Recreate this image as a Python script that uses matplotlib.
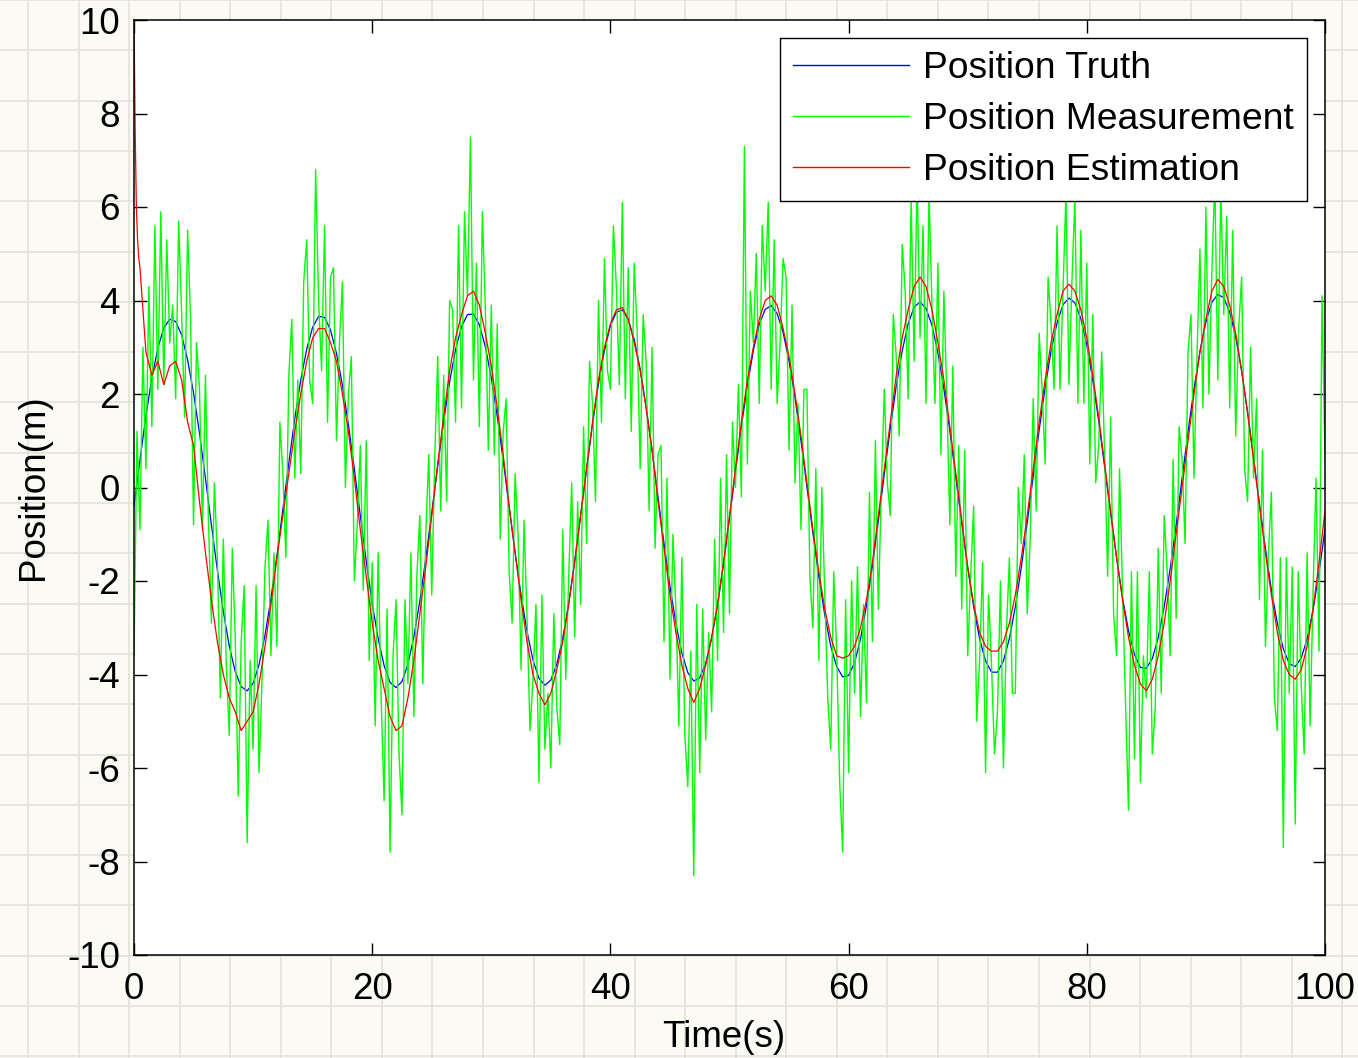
import matplotlib
matplotlib.use("Agg")
import matplotlib.pyplot as plt
import numpy as np

plt.rcParams["font.family"] = ["Liberation Sans", "DejaVu Sans"]
plt.rcParams["axes.unicode_minus"] = False

# sampling grids
t_truth = np.arange(0, 100.5, 0.5)
t_meas = np.arange(0, 100.25, 0.25)
t_est = np.concatenate([np.arange(0, 0.5, 0.1), np.arange(0.5, 100.5, 0.5)])

truth = [
    -0.40, 0.59, 1.53, 2.34, 2.98, 3.41, 3.60, 3.55, 3.26, 2.73,
    2.02, 1.16, 0.19, -0.80, -1.77, -2.65, -3.39, -3.94, -4.26, -4.35,
    -4.19, -3.79, -3.16, -2.37, -1.46, -0.47, 0.53, 1.47, 2.30, 2.96,
    3.43, 3.66, 3.64, 3.37, 2.87, 2.19, 1.35, 0.40, -0.60, -1.58,
    -2.48, -3.23, -3.81, -4.17, -4.28, -4.15, -3.78, -3.19, -2.43, -1.51,
    -0.54, 0.46, 1.41, 2.26, 2.95, 3.44, 3.70, 3.71, 3.48, 3.01,
    2.35, 1.52, 0.58, -0.42, -1.39, -2.30, -3.08, -3.69, -4.08, -4.23,
    -4.12, -3.78, -3.22, -2.48, -1.58, -0.60, 0.40, 1.36, 2.22, 2.93,
    3.46, 3.75, 3.80, 3.59, 3.17, 2.53, 1.72, 0.79, -0.21, -1.19,
    -2.11, -2.91, -3.54, -3.96, -4.14, -4.07, -3.76, -3.23, -2.51, -1.63,
    -0.66, 0.34, 1.31, 2.18, 2.93, 3.49, 3.81, 3.89, 3.72, 3.32,
    2.70, 1.92, 1.00, 0.01, -0.97, -1.91, -2.73, -3.39, -3.83, -4.05,
    -4.02, -3.75, -3.24, -2.53, -1.68, -0.71, 0.29, 1.26, 2.17, 2.92,
    3.50, 3.86, 3.97, 3.83, 3.47, 2.88, 2.11, 1.21, 0.22, -0.77,
    -1.71, -2.55, -3.24, -3.71, -3.95, -3.95, -3.71, -3.23, -2.55, -1.71,
    -0.75, 0.24, 1.23, 2.13, 2.92, 3.52, 3.91, 4.05, 3.95, 3.61,
    3.05, 2.30, 1.42, 0.44, -0.55, -1.50, -2.36, -3.06, -3.57, -3.85,
    -3.87, -3.66, -3.21, -2.55, -1.74, -0.80, 0.19, 1.19, 2.11, 2.91,
    3.54, 3.96, 4.13, 4.06, 3.75, 3.22, 2.49, 1.61, 0.64, -0.35,
    -1.31, -2.19, -2.91, -3.45, -3.77, -3.83, -3.65, -3.24, -2.61, -1.82,
    -0.89,
]

measurement = [
    -3.6, 1.2, -0.9, 3.0, 0.4, 4.3, 1.3, 5.6, 2.1, 5.9,
    2.2, 5.3, 3.1, 3.9, 1.9, 5.7, 3.7, 1.5, 5.5, 3.6,
    -0.8, 3.1, 2.1, -0.9, 2.4, -0.7, -2.9, 0.1, -1.5, -4.5,
    -1.1, -3.8, -5.3, -1.3, -3.2, -6.6, -3.3, -2.1, -7.6, -3.7,
    -5.6, -2.1, -6.1, -4.1, -1.7, -0.7, -3.6, -1.4, -3.4, 1.4,
    0.3, -1.5, 2.4, 3.6, 0.2, 2.3, 0.3, 4.4, 5.3, 2.3,
    1.8, 6.8, 4.0, 2.5, 5.6, 1.4, 4.5, 4.7, 1.0, 3.1,
    4.4, 0.0, 2.0, 2.8, -2.0, -0.8, 0.9, -2.2, 1.0, -3.7,
    -1.6, -5.1, -1.4, -4.5, -6.7, -2.6, -7.8, -3.6, -2.4, -5.7,
    -7.0, -2.4, -4.2, -1.4, -4.9, -1.9, -0.6, -4.2, -1.0, 0.7,
    -2.3, 0.6, 2.8, -0.5, 2.4, -0.3, 4.0, 3.8, 1.4, 5.6,
    1.7, 5.9, 4.1, 7.5, 2.3, 4.8, 1.3, 5.9, 3.8, 0.8,
    3.9, 0.7, 3.5, -1.1, 1.2, 1.9, -1.8, -2.9, 0.3, -1.0,
    -3.9, -0.7, -2.8, -5.2, -4.1, -2.5, -6.3, -2.3, -5.6, -4.4,
    -6.0, -2.7, -4.7, -5.5, -0.9, -4.1, -1.9, 0.1, -3.2, -0.3,
    -2.5, 1.3, -1.2, 2.7, 1.8, -0.3, 4.0, 1.4, 4.9, 2.5,
    2.1, 5.6, 4.3, 2.2, 6.1, 1.9, 4.7, 1.2, 4.8, 3.3,
    0.4, 3.7, 2.7, -0.5, 3.0, -1.3, 0.7, 0.9, -3.3, 0.2,
    -4.1, -1.0, -2.6, -5.1, -1.5, -5.3, -6.4, -3.5, -8.3, -2.5,
    -6.1, -2.6, -5.4, -3.1, -4.8, -1.1, -3.7, 0.2, -3.1, 0.7,
    -2.7, 1.4, 0.0, 2.2, -0.2, 7.3, 0.5, 4.2, 3.1, 5.0,
    1.8, 5.6, 4.2, 6.1, 2.1, 5.3, 1.8, 3.1, 4.9, 4.5,
    0.8, 3.9, 0.1, 1.8, -0.9, 2.1, 2.1, -1.9, -3.0, 0.4,
    -3.7, 0.0, -2.3, -4.5, -5.6, -1.8, -3.5, -6.3, -7.8, -2.4,
    -6.1, -2.0, -4.4, -1.7, -4.9, -2.5, -4.6, -0.1, -3.3, 1.0,
    -2.6, 0.0, 2.1, 0.1, -0.6, 3.7, 2.8, 1.1, 5.2, 4.2,
    1.9, 6.2, 2.7, 6.7, 3.2, 5.6, 1.8, 6.3, 3.9, 1.8,
    4.8, 0.7, 4.2, 1.9, -0.8, 2.6, -1.9, 0.9, -2.6, 0.8,
    -3.6, -1.9, -0.4, -5.0, -3.7, -1.6, -6.1, -2.3, -3.8, -5.7,
    -4.8, -2.0, -6.0, -3.1, -1.5, -4.4, -4.4, 0.0, -1.2, 0.7,
    -2.7, -1.1, 1.9, -0.5, 3.3, 2.1, 0.5, 4.5, 3.5, 2.1,
    5.6, 2.1, 4.2, 6.3, 2.2, 4.4, 6.2, 1.8, 5.5, 1.8,
    4.8, 0.5, 3.7, 0.1, 0.9, 2.9, 0.7, -1.9, 1.5, -2.7,
    -3.6, 0.4, -2.2, -4.6, -6.9, -1.8, -5.8, -1.8, -6.3, -3.6,
    -4.5, -1.8, -5.7, -4.7, -1.3, -4.4, -0.6, -1.8, -3.6, 0.6,
    -2.8, 1.3, 0.6, -1.2, 2.9, 3.7, 0.2, 2.8, 5.1, 1.7,
    6.0, 2.0, 4.6, 6.6, 2.3, 6.4, 3.7, 5.8, 1.7, 5.5,
    1.1, 3.4, 4.5, 0.4, -0.3, 3.0, 0.2, 1.9, -2.4, 0.8,
    -3.4, -1.4, -0.1, -4.5, -5.2, -1.5, -7.7, -1.5, -4.4, -1.7,
    -7.2, -1.8, -4.2, -5.7, -1.4, -5.1, -2.2, 0.2, -3.5, 4.1,
    0.6,
]

estimation = [
    10.0, 7.6, 6.0, 5.3, 4.9,
    4.7, 2.9, 2.4, 2.7, 2.2, 2.6, 2.7, 2.3, 1.4, 0.9,
    -0.3, -1.4, -2.4, -3.3, -4.0, -4.5, -4.8, -5.2, -5.0, -4.8,
    -4.2, -3.4, -2.5, -1.5, -0.6, 0.3, 1.2, 2.0, 2.7, 3.2,
    3.4, 3.4, 3.1, 2.7, 2.0, 1.2, 0.2, -0.9, -1.9, -2.9,
    -3.7, -4.3, -4.9, -5.2, -5.1, -4.5, -3.7, -2.7, -1.7, -0.6,
    0.5, 1.5, 2.5, 3.2, 3.7, 4.1, 4.2, 3.9, 3.3, 2.6,
    1.7, 0.7, -0.4, -1.4, -2.4, -3.3, -4.0, -4.4, -4.65, -4.4,
    -3.9, -3.3, -2.5, -1.6, -0.6, 0.4, 1.4, 2.3, 3.0, 3.5,
    3.8, 3.85, 3.6, 3.1, 2.5, 1.7, 0.8, -0.3, -1.3, -2.3,
    -3.1, -3.8, -4.3, -4.6, -4.3, -3.8, -3.2, -2.5, -1.6, -0.6,
    0.4, 1.4, 2.3, 3.0, 3.6, 4.0, 4.1, 3.9, 3.4, 2.8,
    2.0, 1.1, 0.1, -0.9, -1.8, -2.6, -3.2, -3.6, -3.65, -3.6,
    -3.4, -3.0, -2.4, -1.6, -0.6, 0.4, 1.4, 2.4, 3.2, 3.8,
    4.3, 4.5, 4.3, 3.8, 3.1, 2.3, 1.3, 0.3, -0.7, -1.7,
    -2.5, -3.1, -3.4, -3.5, -3.5, -3.3, -2.9, -2.3, -1.5, -0.6,
    0.4, 1.4, 2.3, 3.1, 3.7, 4.2, 4.35, 4.2, 3.8, 3.2,
    2.4, 1.5, 0.5, -0.5, -1.5, -2.4, -3.2, -3.8, -4.2, -4.35,
    -4.1, -3.6, -2.9, -2.0, -1.0, 0.0, 1.0, 2.0, 2.9, 3.6,
    4.2, 4.45, 4.3, 3.9, 3.3, 2.5, 1.6, 0.6, -0.4, -1.4,
    -2.3, -3.1, -3.7, -4.0, -4.1, -3.9, -3.4, -2.6, -1.6, -0.5,
]

W, H = 1358, 1058
fig = plt.figure(figsize=(W / 100, H / 100), dpi=100)
fig.patch.set_facecolor("#fbfbf4")

# graph-paper background
bg = fig.add_axes([0, 0, 1, 1], zorder=-1)
bg.set_xlim(0, W)
bg.set_ylim(H, 0)
bg.axis("off")
for x in np.arange(28, W, 50.55):
    bg.axvline(x, color="#e2e2da", lw=1.2)
for y in np.arange(0, H, 50.3):
    bg.axhline(y, color="#e2e2da", lw=1.2)

ax = fig.add_axes([134 / W, (H - 955) / H, 1191 / W, 935 / H])
ax.set_facecolor("white")

ax.plot(t_truth, truth, color="#0000ff", lw=0.9, label="Position Truth")
ax.plot(t_meas, measurement, color="#00ff00", lw=1.0, label="Position Measurement")
ax.plot(t_est, estimation, color="#ff0000", lw=0.9, label="Position Estimation")

ax.set_xlim(0, 100)
ax.set_ylim(-10, 10)
ax.set_xticks(np.arange(0, 101, 20))
ax.set_yticks(np.arange(-10, 11, 2))
ax.tick_params(direction="in", length=9, width=1, top=True, right=True,
               labelsize=26.5, colors="black")
ax.tick_params(axis="x", pad=12)
ax.tick_params(axis="y", pad=10)
for s in ax.spines.values():
    s.set_linewidth(1.1)

ax.set_xlabel("Time(s)", fontsize=26.5)
ax.set_ylabel("Position(m)", fontsize=26.5)
ax.xaxis.set_label_coords(0.495, -0.0695)
ax.yaxis.set_label_coords(-0.07, 0.5)

leg = ax.legend(loc="upper right", bbox_to_anchor=(0.985, 0.9807),
                borderaxespad=0, fontsize=26.8, handlelength=3.1,
                handletextpad=0.38, labelspacing=0.42, borderpad=0.36,
                fancybox=False, framealpha=1, edgecolor="black")
leg.get_frame().set_linewidth(1.0)
for line in leg.get_lines():
    line.set_linewidth(1.0)

fig.savefig("out.png", dpi=100, facecolor=fig.get_facecolor())
